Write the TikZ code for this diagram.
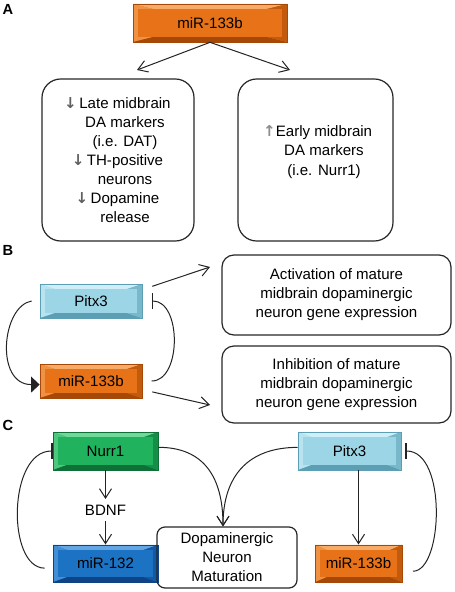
\documentclass[tikz,border=0pt]{standalone}
\usepackage{fontspec}
\setmainfont{Liberation Sans}
\newfontfamily\symfont{DejaVu Sans}
\usetikzlibrary{arrows.meta,calc}

\definecolor{orMid}{RGB}{232,114,24}
\definecolor{orLight}{RGB}{246,172,104}
\definecolor{orDark}{RGB}{165,72,8}
\definecolor{pxMid}{RGB}{156,214,230}
\definecolor{pxLight}{RGB}{208,238,247}
\definecolor{pxDark}{RGB}{92,158,180}
\definecolor{nuMid}{RGB}{32,178,92}
\definecolor{nuLight}{RGB}{112,216,152}
\definecolor{nuDark}{RGB}{14,112,54}
\definecolor{mbMid}{RGB}{28,114,195}
\definecolor{mbLight}{RGB}{100,165,228}
\definecolor{mbDark}{RGB}{14,68,134}
\definecolor{linec}{RGB}{35,35,35}
\definecolor{arrgray}{RGB}{95,95,95}
\definecolor{arrlight}{RGB}{140,140,140}

\newcommand{\dnarr}{\leavevmode\llap{{\symfont\bfseries\color{arrgray}↓}\,}}
\newcommand{\uparr}{\leavevmode\llap{{\symfont\bfseries\color{arrlight}↑}}}

\tikzset{every picture/.style={line width=0.75pt}}

\begin{document}
\begin{tikzpicture}[x=0.75pt,y=0.75pt,yscale=-1,xscale=1,
  lbl/.style={font=\fontsize{11}{13}\selectfont\bfseries, inner sep=0pt},
  txt/.style={align=center, font=\fontsize{11.3}{14.3}\selectfont, inner sep=0.75pt},
  rbox/.style={draw=black!85, line width=0.9pt, align=center, inner sep=0pt, font=\fontsize{11.3}{14.3}\selectfont},
  bevel/.style n args={3}{draw=#3, line width=0.5pt, fill=#1, inner sep=0pt, font=\fontsize{11.3}{13}\selectfont,
    path picture={
      \fill[#2] (path picture bounding box.north west) -- (path picture bounding box.north east) -- (path picture bounding box.center) -- cycle;
      \fill[#2!55!#1] (path picture bounding box.north west) -- (path picture bounding box.south west) -- (path picture bounding box.center) -- cycle;
      \fill[#3] (path picture bounding box.south west) -- (path picture bounding box.south east) -- (path picture bounding box.center) -- cycle;
      \fill[#3!55!#1] (path picture bounding box.north east) -- (path picture bounding box.south east) -- (path picture bounding box.center) -- cycle;
      \path let \p1=($(path picture bounding box.north east)-(path picture bounding box.south west)$) in
        node[fill=#1, draw=none, inner sep=0pt, minimum width=\x1-8pt, minimum height=\y1-8pt] (face) at (path picture bounding box.center) {};
    }},
  orbox/.style={bevel={orMid}{orLight}{orDark}},
  pxbox/.style={bevel={pxMid}{pxLight}{pxDark}},
  nubox/.style={bevel={nuMid}{nuLight}{nuDark}},
  mbbox/.style={bevel={mbMid}{mbLight}{mbDark}},
  arr/.style={draw=linec, -{Straight Barb[length=7pt,width=9pt]}},
  inh/.style={draw=linec, -{Bar[width=12pt,line width=1.3pt]}},
  trif/.style={draw=linec, -{Triangle[length=6.5pt,width=12pt]}},
]
\useasboundingbox (0,0) rectangle (454,592);

% Panel A
\node[lbl] (labA) at (8,9) {A};
\node[orbox, minimum width=115.5pt, minimum height=28.5pt] (mirA) at (210,23) {miR-133b};
\node[rbox, rounded corners=14pt, minimum width=114pt, minimum height=121.5pt] (lateA) at (118,160) {};
\node[rbox, rounded corners=14pt, minimum width=116.25pt, minimum height=121.5pt] (earlyA) at (315.5,160) {};
\node[txt] (lateT) at (125,160) {\dnarr Late midbrain\\DA markers\\(i.e. DAT)\\\dnarr TH-positive\\neurons\\\dnarr Dopamine\\release};
\node[txt] (earlyT) at (324,152) {\uparr Early midbrain\\DA markers\\(i.e. Nurr1)};
\coordinate (tipL) at (137,70);
\coordinate (tipR) at (290,70);
\draw[arr] (mirA.south) -- (tipL);
\draw[arr] (mirA.south) -- (tipR);

% Panel B
\node[lbl] (labB) at (8,250) {B};
\node[pxbox, minimum width=76.5pt, minimum height=25.5pt] (pitxB) at (91,301) {Pitx3};
\node[orbox, minimum width=76.5pt, minimum height=25.5pt] (mirB) at (91,381) {miR-133b};
\node[rbox, rounded corners=9pt, minimum width=171.75pt, minimum height=60pt] (actB) at (336.5,295) {Activation of mature\\midbrain dopaminergic\\neuron gene expression};
\node[rbox, rounded corners=9pt, minimum width=171.75pt, minimum height=57.75pt] (inhB) at (336.5,384.5) {Inhibition of mature\\midbrain dopaminergic\\neuron gene expression};
\coordinate (actTip) at (210,267);
\coordinate (inhTip) at (210,405);
\draw[arr] ([xshift=7.5pt]pitxB.16) -- (actTip);
\draw[arr] ([xshift=7.5pt]mirB.-12) -- (inhTip);
\draw[trif] ([xshift=-6pt]pitxB.west) .. controls +(-30,5) and +(-45,0) .. (mirB.184);
\draw[inh] ([xshift=7pt]mirB.east) .. controls +(30,0) and +(30,0) .. ([xshift=7pt]pitxB.east);

% Panel C
\node[lbl] (labC) at (8,425) {C};
\node[nubox, minimum width=78.75pt, minimum height=28.5pt] (nurrC) at (105.5,451) {Nurr1};
\node[txt, inner sep=4pt] (bdnf) at (105.5,510) {BDNF};
\node[mbbox, minimum width=78.75pt, minimum height=28pt] (mir132) at (105.5,563.5) {miR-132};
\node[rbox, rounded corners=6pt, minimum width=105pt, minimum height=45.75pt] (dopa) at (227,557.5) {Dopaminergic\\Neuron\\Maturation};
\node[pxbox, minimum width=77.25pt, minimum height=28.5pt] (pitxC) at (349.5,451) {Pitx3};
\node[orbox, minimum width=65.25pt, minimum height=28pt] (mirC) at (358.5,563.5) {miR-133b};
\draw[arr] (nurrC.south) -- (bdnf.north);
\draw[arr] (bdnf.south) -- (mir132.north);
\draw[arr] (pitxC.south -| mirC.north) -- (mirC.north);
\draw[arr] (nurrC.4) .. controls +(45,0) and +(0,-50) .. ([xshift=-3pt]dopa.north);
\draw[arr] (pitxC.176) .. controls +(-50,0) and +(0,-50) .. ([xshift=-3pt]dopa.north);
\draw[inh] ([xshift=-6pt]mir132.185) .. controls +(-38,0) and +(-45,0) .. (nurrC.west);
\draw[inh] ([xshift=8pt]mirC.-10) .. controls +(30,0) and +(42,0) .. ([xshift=3pt]pitxC.east);

\end{tikzpicture}
\end{document}
